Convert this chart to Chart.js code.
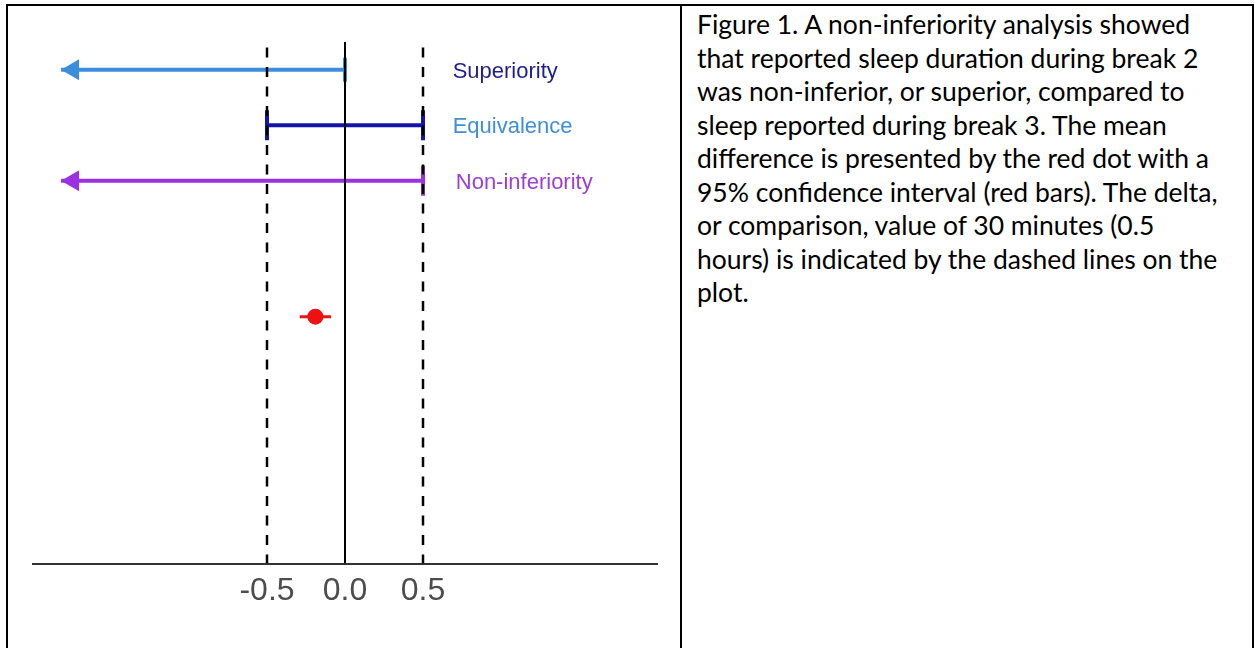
<!DOCTYPE html>
<html>
<head>
<meta charset="utf-8">
<script src="https://cdn.jsdelivr.net/npm/chart.js@4.4.0/dist/chart.umd.min.js"></script>
<style>
  body { margin: 0; background: #fff; width: 1254px; height: 648px; overflow: hidden; position: relative; }
  #chart-box { position: absolute; left: 0; top: 0; width: 680px; height: 648px; }
  .rule { position: absolute; background: #000; }
  #caption {
    position: absolute; left: 697px; top: 8px;
    font-family: Lato, "Open Sans", sans-serif; font-size: 26.5px; line-height: 33.5px;
    color: #000; white-space: nowrap;
  }
</style>
</head>
<body>
<div id="chart-box"><canvas id="plot"></canvas></div>
<div class="rule" style="left:6px; top:4px; width:1248px; height:2px;"></div>
<div class="rule" style="left:6px; top:4px; width:2px; height:644px;"></div>
<div class="rule" style="left:680px; top:4px; width:2px; height:644px;"></div>
<div class="rule" style="left:1252px; top:4px; width:2px; height:644px;"></div>
<div id="caption">Figure 1. A non-inferiority analysis showed<br>that reported sleep duration during break 2<br>was non-inferior, or superior, compared to<br>sleep reported during break 3. The mean<br>difference is presented by the red dot with a<br>95% confidence interval (red bars). The delta,<br>or comparison, value of 30 minutes (0.5<br>hours) is indicated by the dashed lines on the<br>plot.</div>
<script>
// hypothesis rows (top to bottom)
const rowLabels = ["Superiority", "Equivalence", "Non-inferiority"];
const rowY = [8.9, 7.9, 6.9];
const rowStart = [-1.82, -0.5, -1.82];
const rowEnd = [0, 0.5, 0.5];
const rowArrow = [true, false, true];
const labelX = [0.69, 0.69, 0.71];

// mean difference with 95% CI
const meanDiff = -0.19;
const ciLow = -0.29;
const ciHigh = -0.09;
const meanY = 4.45;

// reference lines
const deltaLines = [-0.5, 0.5];
const deltaTop = 9.3;
const zeroTop = 9.4;

const tickValues = [-0.5, 0, 0.5];
const tickLabels = ["-0.5", "0.0", "0.5"];

const lineColors = ["#3b8edc", "#1414aa", "#9a32e2"];
const textColors = ["#1e1e8e", "#3f8fd6", "#9b3fd8"];
const capSizes = [12, 15, 15];

const datasets = [];

// vertical reference lines go first so they sit on top
deltaLines.forEach((x) => {
  datasets.push({
    data: [{ x: x, y: deltaTop }, { x: x, y: 0 }],
    showLine: true,
    borderColor: "#000",
    borderWidth: 2.5,
    borderDash: [10, 9.5],
    pointRadius: 0,
    order: 0,
  });
});

datasets.push({
  data: [{ x: 0, y: zeroTop }, { x: 0, y: 0 }],
  showLine: true,
  borderColor: "#000",
  borderWidth: 2,
  pointRadius: 0,
  order: 0,
});

rowLabels.forEach((label, i) => {
  const r = capSizes[i];
  datasets.push({
    label: label,
    data: [{ x: rowStart[i], y: rowY[i] }, { x: rowEnd[i], y: rowY[i] }],
    showLine: true,
    borderColor: lineColors[i],
    borderWidth: 4,
    pointStyle: "line",
    rotation: 90,
    pointRadius: [rowArrow[i] ? 0 : r, r],
    pointBorderColor: lineColors[i],
    pointBorderWidth: 4,
    order: 1,
  });
});

datasets.push({
  data: [{ x: ciLow, y: meanY }, { x: ciHigh, y: meanY }],
  showLine: true,
  borderColor: "#ee1111",
  borderWidth: 3,
  pointRadius: 0,
  order: 1,
});

datasets.push({
  data: [{ x: meanDiff, y: meanY }],
  pointRadius: 8,
  pointBackgroundColor: "#ee1111",
  pointBorderColor: "#ee1111",
  pointBorderWidth: 0,
  order: 1,
});

const rowDecor = {
  id: "rowDecor",
  afterDatasetsDraw(chart) {
    const ctx = chart.ctx;
    const xs = chart.scales.x;
    const ys = chart.scales.y;
    ctx.save();
    rowLabels.forEach((label, i) => {
      const py = ys.getPixelForValue(rowY[i]);
      if (rowArrow[i]) {
        const tip = xs.getPixelForValue(rowStart[i]);
        ctx.fillStyle = lineColors[i];
        ctx.beginPath();
        ctx.moveTo(tip, py);
        ctx.lineTo(tip + 18, py - 10.5);
        ctx.lineTo(tip + 18, py + 10.5);
        ctx.closePath();
        ctx.fill();
      }
      ctx.fillStyle = textColors[i];
      ctx.font = "22px 'Liberation Sans', Arial, sans-serif";
      ctx.textAlign = "left";
      ctx.textBaseline = "middle";
      ctx.fillText(label, xs.getPixelForValue(labelX[i]), py + 2);
    });
    ctx.restore();
  },
};

new Chart(document.getElementById("plot"), {
  type: "scatter",
  data: { datasets: datasets },
  plugins: [rowDecor],
  options: {
    animation: false,
    responsive: true,
    maintainAspectRatio: false,
    events: [],
    layout: { padding: { left: 33, right: 23, top: 42, bottom: 30 } },
    plugins: { legend: { display: false }, tooltip: { enabled: false } },
    scales: {
      x: {
        type: "linear",
        min: -2,
        max: 2,
        grid: { display: false, drawTicks: false },
        border: { display: true, color: "#333", width: 2 },
        afterBuildTicks: (scale) => {
          scale.ticks = tickValues.map((v) => ({ value: v }));
        },
        ticks: {
          padding: 8,
          color: "#4d4d4d",
          font: { size: 32, family: "'Liberation Sans', Arial, sans-serif" },
          callback: (value, index) => tickLabels[index],
        },
      },
      y: { type: "linear", display: false, min: 0, max: 9.4 },
    },
  },
});
</script>
</body>
</html>
